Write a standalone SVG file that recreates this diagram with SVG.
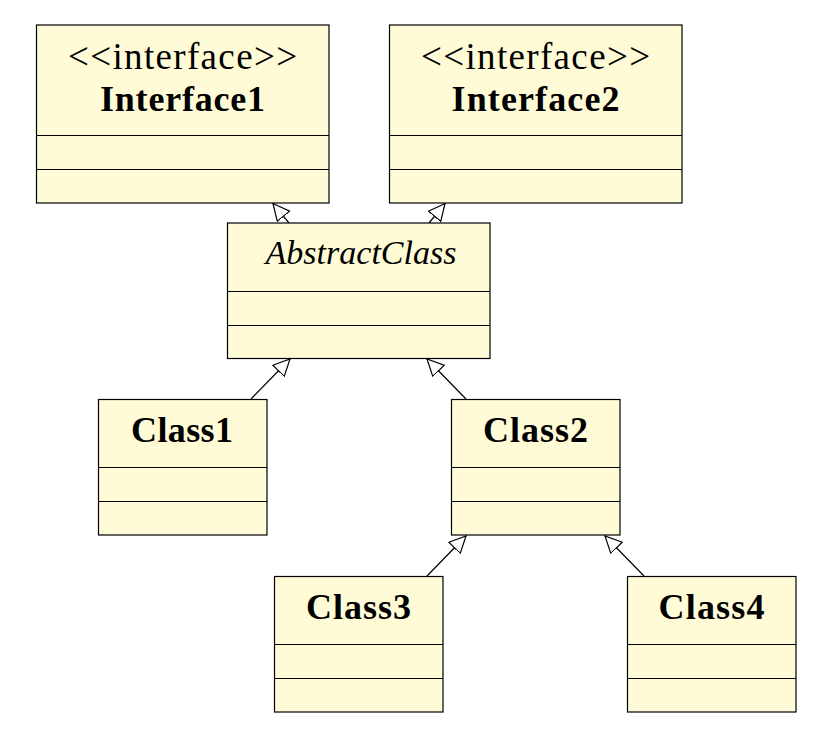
<svg xmlns="http://www.w3.org/2000/svg" width="827" height="737" viewBox="0 0 827 737">
<style>
.box{fill:#FFFBD6;stroke:#000;stroke-width:1.2}
.sep{stroke:#000;stroke-width:1.2}
.t{font-family:"Liberation Serif","DejaVu Serif",serif;font-size:36px;text-anchor:middle;fill:#000}
.st{font-size:37px}
.b{font-weight:bold}
.i{font-style:italic;font-size:34px}
.edge{stroke:#000;stroke-width:1.2;fill:none;marker-end:url(#tri)}
</style>
<defs>
<marker id="tri" markerUnits="userSpaceOnUse" markerWidth="19" markerHeight="18" refX="17" refY="8.5" orient="auto">
<path d="M0.5,0.5 L17,8.5 L0.5,16.5 Z" fill="#fff" stroke="#000" stroke-width="1.2"/>
</marker>
</defs>
<rect width="827" height="737" fill="#fff"/>
<g id="connectors">
<line class="edge" x1="289" y1="223" x2="273" y2="203.5"/>
<line class="edge" x1="429" y1="223" x2="445" y2="203.5"/>
<line class="edge" x1="251" y1="399" x2="290" y2="359"/>
<line class="edge" x1="466" y1="399" x2="427" y2="359"/>
<line class="edge" x1="427" y1="576" x2="466" y2="536"/>
<line class="edge" x1="644" y1="576" x2="605" y2="536"/>
</g>
<g id="Interface1">
<rect class="box" x="36.5" y="25" width="292.5" height="178"/>
<line class="sep" x1="36.5" y1="135.5" x2="329" y2="135.5"/>
<line class="sep" x1="36.5" y1="169.5" x2="329" y2="169.5"/>
<text class="t st" x="182.5" y="69" textLength="229">&lt;&lt;interface&gt;&gt;</text>
<text class="t b" x="182.5" y="111" textLength="165">Interface1</text>
</g>
<g id="Interface2">
<rect class="box" x="389.5" y="25" width="292.5" height="178"/>
<line class="sep" x1="389.5" y1="135.5" x2="682" y2="135.5"/>
<line class="sep" x1="389.5" y1="169.5" x2="682" y2="169.5"/>
<text class="t st" x="535.5" y="69" textLength="229">&lt;&lt;interface&gt;&gt;</text>
<text class="t b" x="535.5" y="111" textLength="168">Interface2</text>
</g>
<g id="AbstractClass">
<rect class="box" x="227.5" y="223" width="262.5" height="135.5"/>
<line class="sep" x1="227.5" y1="291.5" x2="490" y2="291.5"/>
<line class="sep" x1="227.5" y1="325.5" x2="490" y2="325.5"/>
<text class="t i" x="361" y="264" textLength="191">AbstractClass</text>
</g>
<g id="Class1">
<rect class="box" x="98.5" y="399.5" width="168.5" height="135.5"/>
<line class="sep" x1="98.5" y1="467.5" x2="267" y2="467.5"/>
<line class="sep" x1="98.5" y1="501.5" x2="267" y2="501.5"/>
<text class="t b" x="182" y="442" textLength="102">Class1</text>
</g>
<g id="Class2">
<rect class="box" x="451.5" y="399.5" width="168.5" height="135.5"/>
<line class="sep" x1="451.5" y1="467.5" x2="620" y2="467.5"/>
<line class="sep" x1="451.5" y1="501.5" x2="620" y2="501.5"/>
<text class="t b" x="535.5" y="442" textLength="105">Class2</text>
</g>
<g id="Class3">
<rect class="box" x="274.5" y="576.5" width="168.5" height="135.5"/>
<line class="sep" x1="274.5" y1="644.5" x2="443" y2="644.5"/>
<line class="sep" x1="274.5" y1="678.5" x2="443" y2="678.5"/>
<text class="t b" x="358.5" y="619" textLength="105">Class3</text>
</g>
<g id="Class4">
<rect class="box" x="627.5" y="576.5" width="168.5" height="135.5"/>
<line class="sep" x1="627.5" y1="644.5" x2="796" y2="644.5"/>
<line class="sep" x1="627.5" y1="678.5" x2="796" y2="678.5"/>
<text class="t b" x="711.5" y="619" textLength="106">Class4</text>
</g>
</svg>
